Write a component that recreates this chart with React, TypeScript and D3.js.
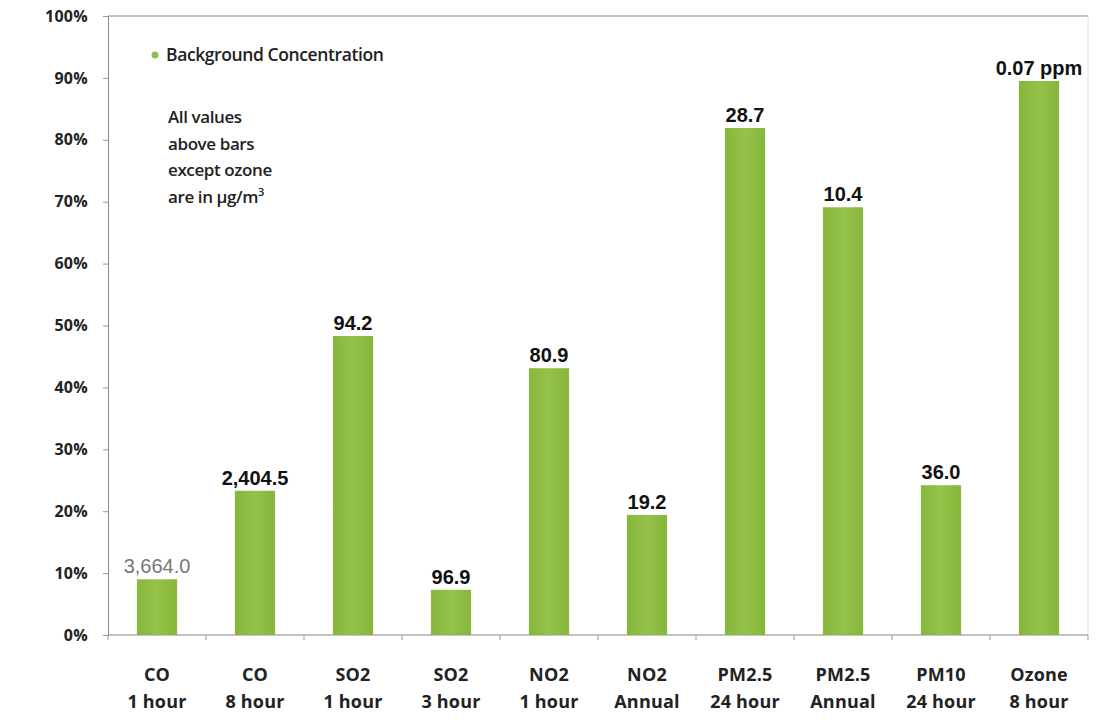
import React, { useEffect, useRef } from "react";
import * as d3 from "d3";

const categories = [
  ["CO", "1 hour"],
  ["CO", "8 hour"],
  ["SO2", "1 hour"],
  ["SO2", "3 hour"],
  ["NO2", "1 hour"],
  ["NO2", "Annual"],
  ["PM2.5", "24 hour"],
  ["PM2.5", "Annual"],
  ["PM10", "24 hour"],
  ["Ozone", "8 hour"],
];
const percents = [9.0, 23.3, 48.3, 7.3, 43.1, 19.4, 81.9, 69.1, 24.2, 89.5];
const valueLabels = ["3,664.0", "2,404.5", "94.2", "96.9", "80.9", "19.2", "28.7", "10.4", "36.0", "0.07 ppm"];
const yTicks = [0, 10, 20, 30, 40, 50, 60, 70, 80, 90, 100];
const noteLines = ["All values", "above bars", "except ozone", "are in μg/m"];

export default function App() {
  const ref = useRef<SVGSVGElement>(null);

  useEffect(() => {
    const svg = d3.select(ref.current);
    svg.selectAll("*").remove();
    const width = 1117;
    const height = 725;
    const margin = { top: 16, left: 108, bottom: 90, right: 29 };
    const iwidth = width - margin.left - margin.right;
    const iheight = height - margin.top - margin.bottom;

    const g = svg.append("g").attr("transform", `translate(${margin.left},${margin.top})`);

    const x = d3
      .scaleBand()
      .domain(categories.map((d, i) => String(i)))
      .range([0, iwidth])
      .paddingInner(0.59)
      .paddingOuter(0.295);
    const y = d3.scaleLinear().domain([0, 100]).range([iheight, 0]);

    // frame: top and right border
    g.append("line").attr("x1", 0).attr("x2", iwidth).attr("y1", 0).attr("y2", 0)
      .attr("stroke", "#aab3c8").attr("stroke-width", 1.5);
    g.append("line").attr("x1", iwidth).attr("x2", iwidth).attr("y1", 0).attr("y2", iheight)
      .attr("stroke", "#e2e2e2");

    const font = "'Open Sans', 'Liberation Sans', sans-serif";

    // y axis
    const yAxis = g.append("g").call(
      d3.axisLeft(y).tickValues(yTicks).tickSize(5).tickFormat((d) => `${d}%`)
    );
    yAxis.select(".domain").attr("stroke", "#888");
    yAxis.selectAll(".tick line").attr("stroke", "#999");
    yAxis.selectAll(".tick text")
      .attr("x", -20)
      .style("font-family", font)
      .style("font-size", "16px")
      .style("font-weight", "bold")
      .style("letter-spacing", "0.3px")
      .attr("fill", "#222");

    // x axis with ticks at band boundaries
    const step = x.step();
    const xg = g.append("g").attr("transform", `translate(0,${iheight})`);
    xg.append("line").attr("x1", 0).attr("x2", iwidth).attr("stroke", "#888");
    d3.range(categories.length + 1).forEach((i) => {
      xg.append("line").attr("x1", i * step).attr("x2", i * step).attr("y1", 0).attr("y2", 5)
        .attr("stroke", "#999");
    });
    categories.forEach((c, i) => {
      const cx = (x(String(i)) ?? 0) + x.bandwidth() / 2;
      c.forEach((line, j) => {
        xg.append("text")
          .attr("x", cx)
          .attr("y", 46 + j * 27)
          .attr("text-anchor", "middle")
          .style("font-family", font)
          .style("font-size", "18px")
          .style("font-weight", "bold")
          .style("letter-spacing", "0.2px")
          .attr("fill", "#222")
          .text(line);
      });
    });

    // bars
    const grad = svg.append("defs").append("linearGradient").attr("id", "barGrad")
      .attr("x1", 0).attr("x2", 1).attr("y1", 0).attr("y2", 0);
    grad.append("stop").attr("offset", "0%").attr("stop-color", "#86b63a");
    grad.append("stop").attr("offset", "50%").attr("stop-color", "#95c24a");
    grad.append("stop").attr("offset", "100%").attr("stop-color", "#86b63a");

    g.selectAll("rect.bar")
      .data(percents)
      .enter()
      .append("rect")
      .attr("class", "bar")
      .attr("x", (d, i) => x(String(i)) ?? 0)
      .attr("y", (d) => y(d))
      .attr("width", x.bandwidth())
      .attr("height", (d) => iheight - y(d))
      .attr("fill", "url(#barGrad)");

    g.selectAll("text.val")
      .data(percents)
      .enter()
      .append("text")
      .attr("class", "val")
      .attr("x", (d, i) => (x(String(i)) ?? 0) + x.bandwidth() / 2)
      .attr("y", (d) => y(d) - 6)
      .attr("text-anchor", "middle")
      .style("font-family", "'Liberation Sans', Arial, sans-serif")
      .style("font-size", "20px")
      .style("font-weight", (d, i) => (i === 0 ? "normal" : "bold"))
      .attr("fill", (d, i) => (i === 0 ? "#777" : "#111"))
      .text((d, i) => valueLabels[i]);

    // legend
    g.append("circle").attr("cx", 47).attr("cy", 39).attr("r", 3.5).attr("fill", "#8fbf48");
    g.append("text")
      .attr("x", 58)
      .attr("y", 45)
      .style("font-family", font)
      .style("font-size", "17.5px")
      .style("font-weight", "600")
      .style("letter-spacing", "-0.4px")
      .attr("fill", "#222")
      .text("Background Concentration");

    // note
    noteLines.forEach((line, i) => {
      const t = g.append("text")
        .attr("x", 60)
        .attr("y", 107 + i * 26.5)
        .style("font-family", font)
        .style("font-size", "17px")
        .style("font-weight", "600")
        .style("letter-spacing", "-0.4px")
        .attr("fill", "#222")
        .text(line);
      if (i === noteLines.length - 1) {
        t.append("tspan").attr("dy", -7).style("font-size", "11px").text("3");
      }
    });
  }, []);

  return (
    <svg
      ref={ref}
      width={1117}
      height={725}
      style={{ position: "absolute", left: 0, top: 0, background: "#fff" }}
    />
  );
}
